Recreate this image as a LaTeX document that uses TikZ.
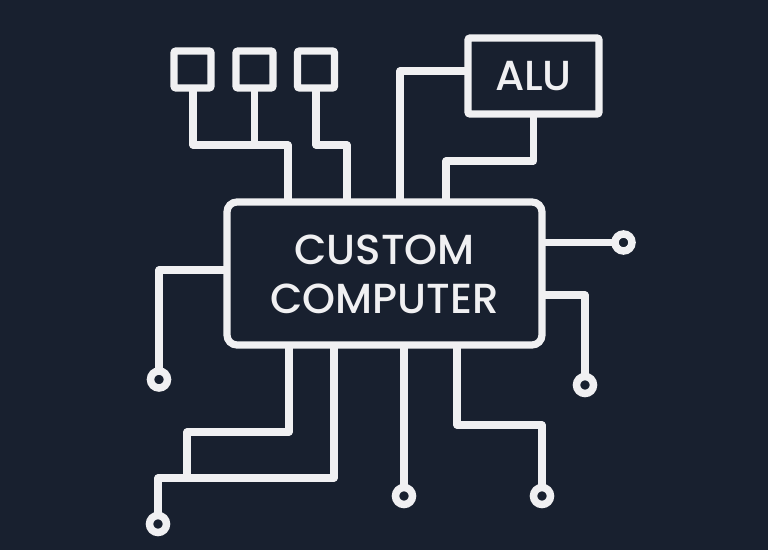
\documentclass[tikz,border=0pt]{standalone}
\usepackage{fontspec}
\setmainfont{Poppins Medium}
\definecolor{bgc}{HTML}{18202F}
\definecolor{fgc}{HTML}{F0F0F2}
\tikzset{
  wire/.style={draw=fgc,line width=7.2pt,line join=round},
  blockbox/.style={draw=fgc,line width=7.2pt,fill=bgc,outer sep=0pt,inner sep=0pt,rectangle,text=fgc},
  pad/.style={blockbox,rounded corners=2pt,minimum width=37pt,minimum height=37pt},
  dot/.style={circle,draw=fgc,line width=7.5pt,fill=bgc,outer sep=0pt,inner sep=0pt,minimum size=17pt}
}
\begin{document}
\begin{tikzpicture}[x=1pt,y=-1pt]
\useasboundingbox[fill=bgc] (0,0) rectangle (768,550);
\node[blockbox,rounded corners=10pt,minimum width=315pt,minimum height=143pt,align=center] (cpu) at (384.5,273.5) {};
\node[text=fgc,font=\fontsize{42}{49}\selectfont,align=center,inner sep=0pt] (cpulabel) at (384.5,274) {CUSTOM\\COMPUTER};
\node[pad] (s1) at (192.5,69.5) {};
\node[pad] (s2) at (254.5,69.5) {};
\node[pad] (s3) at (316,69.5) {};
\node[blockbox,rounded corners=2pt,minimum width=131pt,minimum height=76pt,font=\fontsize{42}{46}\selectfont] (alu) at (533.5,76) {ALU};
\node[dot] (d1) at (159,379.5) {};
\node[dot] (d2) at (158,524) {};
\node[dot] (d3) at (404,496) {};
\node[dot] (d4) at (542,496) {};
\node[dot] (d5) at (623.5,242.5) {};
\node[dot] (d6) at (585,385) {};
\coordinate (j1) at (255,145);
\coordinate (j2) at (187,478);
% top
\draw[wire] (s1.south -| 193,0) |- (288,145) -- (288,200);
\draw[wire] (s2.south) -- (s2.south |- j1);
\draw[wire] (s3.south) |- (347,145) -- (347,200);
\draw[wire] (alu.west |- 0,71) -| (400,200);
\draw[wire] (alu.south) |- (446,161) -- (446,200);
% bottom
\draw[wire] (289,345) |- (j2 |- 0,432) -- (j2);
\draw[wire] (334,345) |- (158,478) -- (d2);
\draw[wire] (404,345) -- (d3);
\draw[wire] (457,345) |- (542,425) -- (d4);
% sides
\draw[wire] (227,270) -| (d1);
\draw[wire] (cpu.east |- d5) -- (d5);
\draw[wire] (542,295) -| (d6);
\end{tikzpicture}
\end{document}
